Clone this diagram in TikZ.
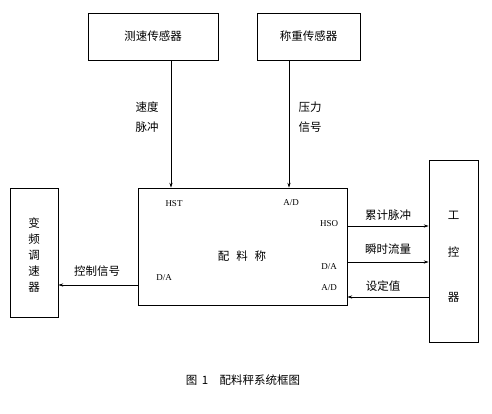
\documentclass[tikz,border=0pt]{standalone}
\usepackage{fontspec}
\setmainfont{Liberation Serif}
\newfontfamily\cjk{Noto Sans CJK SC}
\usetikzlibrary{arrows.meta}
\tikzset{
  blk/.style={draw, line width=0.6pt, inner sep=0pt},
  cn/.style={font=\cjk\fontsize{11.5}{13}\selectfont, inner sep=0pt},
  lat/.style={font=\fontsize{9}{10}\selectfont, inner sep=0pt},
  arr/.style={draw, line width=0.6pt, -{Stealth[length=5pt,width=3.2pt]}},
}
\begin{document}
\begin{tikzpicture}[x=1pt,y=-1pt]
\useasboundingbox (0,0) rectangle (492,413);
% boxes
\node[blk, minimum width=130pt, minimum height=47pt] (speed) at (153,36.5) {};
\node[cn] at (speed.center) {测速传感器};
\node[blk, minimum width=103pt, minimum height=47pt] (weigh) at (308.5,36.5) {};
\node[cn] at (weigh.center) {称重传感器};
\node[blk, minimum width=209pt, minimum height=117pt] (main) at (242.5,246.5) {};
\node[blk, minimum width=48pt, minimum height=129pt] (vfd) at (34,252.5) {};
\node[cn, align=center, font=\cjk\fontsize{11.5}{16}\selectfont] at (34,255) {变\\频\\调\\速\\器};
\node[blk, minimum width=49pt, minimum height=182pt] (ipc) at (453.5,251) {};
\node[cn] at (453.5,215) {工};
\node[cn] at (453.5,252) {控};
\node[cn] at (453.5,297) {器};
% main box texts
\node[cn] at (242,256) {配\hspace{0.6em}料\hspace{0.6em}称};
\node[lat] at (174,204) {HST};
\node[lat] at (291,203) {A/D};
\node[lat] at (329,224) {HSO};
\node[lat] at (329,267) {D/A};
\node[lat] at (329,288) {A/D};
\node[lat] at (164,278) {D/A};
% vertical connectors
\coordinate (s1) at (171,60);
\coordinate (w1) at (289,60);
\draw[arr] (speed.south -| s1) -- (main.north -| s1);
\draw[arr] (weigh.south -| w1) -- (main.north -| w1);
\node[cn, align=center, font=\cjk\fontsize{11.5}{20}\selectfont] at (147,117) {速度\\脉冲};
\node[cn, align=center, font=\cjk\fontsize{11.5}{20}\selectfont] at (310,117) {压力\\信号};
% horizontal connectors
\coordinate (c1) at (0,285);
\draw[arr] (main.west |- c1) -- (vfd.east |- c1);
\node[cn] at (97,271) {控制信号};
\coordinate (h1) at (0,226);
\coordinate (h2) at (0,262);
\coordinate (h3) at (0,297);
\draw[arr] (main.east |- h1) -- (ipc.west |- h1);
\draw[arr] (main.east |- h2) -- (ipc.west |- h2);
\draw[arr] (ipc.west |- h3) -- (main.east |- h3);
\node[cn] at (388,215) {累计脉冲};
\node[cn] at (388,249) {瞬时流量};
\node[cn] at (383,286) {设定值};
% caption
\node[cn] at (243,380) {图\hspace{0.4em}1\hspace{1em}配料秤系统框图};
\end{tikzpicture}
\end{document}
